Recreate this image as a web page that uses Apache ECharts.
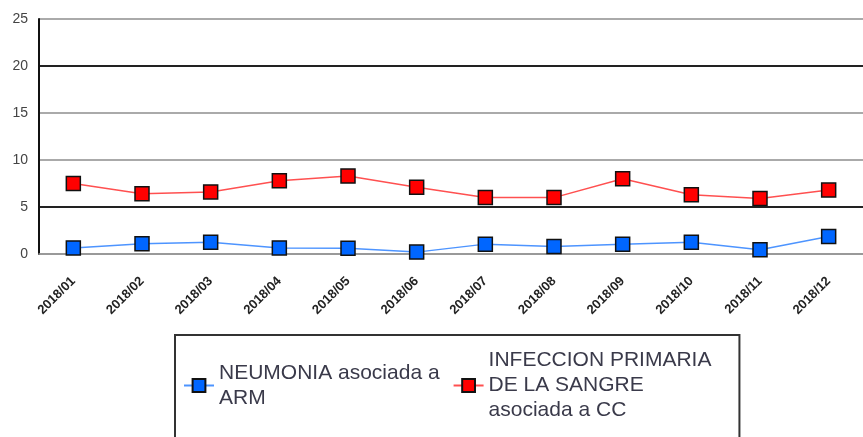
<!DOCTYPE html>
<html>
<head>
<meta charset="utf-8">
<script src="https://cdn.jsdelivr.net/npm/echarts@6/dist/echarts.min.js"></script>
<style>
  html, body { margin: 0; padding: 0; background: #fff; }
  #chart { width: 863px; height: 437px; }
</style>
</head>
<body>
<div id="chart"></div>
<script>
const months = ['2018/01', '2018/02', '2018/03', '2018/04', '2018/05', '2018/06',
  '2018/07', '2018/08', '2018/09', '2018/10', '2018/11', '2018/12']
const neumonia = [0.65, 1.1, 1.25, 0.65, 0.6, 0.2, 1.05, 0.8, 1.05, 1.25, 0.45, 1.85]
const infeccion = [7.5, 6.4, 6.6, 7.8, 8.3, 7.1, 6.0, 6.0, 8.0, 6.3, 5.9, 6.8]
const neumoniaName = 'NEUMONIA asociada a\nARM'
const infeccionName = 'INFECCION PRIMARIA\nDE LA SANGRE\nasociada a CC'
// line colours per gridline: 0, 5, 10, 15, 20, 25
const gridColors = ['#999', '#222', '#aaa', '#aaa', '#222', '#aaa']

const chart = echarts.init(document.getElementById('chart'))
chart.setOption({
  backgroundColor: '#fff',
  animation: false,
  grid: { left: 39, right: -10, top: 19, bottom: 183 },
  legend: {
    left: 175,
    top: 335,
    orient: 'horizontal',
    itemWidth: 30,
    itemHeight: 16,
    itemGap: 13,
    padding: [13, 28, 60, 8],
    borderColor: '#333',
    borderWidth: 2,
    textStyle: { fontFamily: 'Liberation Sans', fontSize: 21, lineHeight: 25, color: '#3a3a4a' },
    data: [neumoniaName, infeccionName]
  },
  xAxis: {
    type: 'category',
    data: months,
    axisLine: { lineStyle: { color: '#999', width: 1.5 } },
    axisTick: { show: false },
    axisLabel: {
      rotate: 45,
      margin: 25,
      interval: 0,
      fontFamily: 'Liberation Sans',
      fontSize: 13,
      fontWeight: 'bold',
      color: '#222'
    }
  },
  yAxis: {
    type: 'value',
    min: 0,
    max: 25,
    interval: 5,
    axisLine: { show: true, lineStyle: { color: '#111', width: 2 } },
    axisTick: { show: false },
    axisLabel: { margin: 11, fontFamily: 'Liberation Sans', fontSize: 14, color: '#444' },
    splitLine: { show: true, lineStyle: { color: gridColors, width: 2 } }
  },
  series: [
    {
      name: neumoniaName,
      type: 'line',
      data: neumonia,
      symbol: 'rect',
      symbolSize: 14,
      lineStyle: { color: '#4d94ff', width: 1.5 },
      itemStyle: { color: '#0066ff', borderColor: '#111', borderWidth: 1.5 }
    },
    {
      name: infeccionName,
      type: 'line',
      data: infeccion,
      symbol: 'rect',
      symbolSize: 14,
      lineStyle: { color: '#ff5050', width: 1.5 },
      itemStyle: { color: '#ff0000', borderColor: '#111', borderWidth: 1.5 }
    }
  ]
})
</script>
</body>
</html>
